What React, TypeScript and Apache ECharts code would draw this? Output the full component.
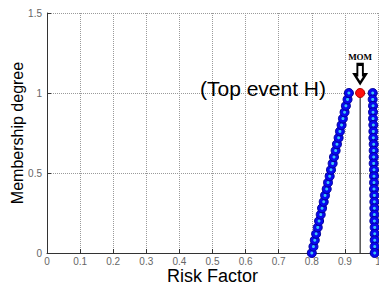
import React, { useEffect, useRef } from "react";
import * as echarts from "echarts";

const xTicks = [0, 0.1, 0.2, 0.3, 0.4, 0.5, 0.6, 0.7, 0.8, 0.9, 1];
const yTicks = [0, 0.5, 1, 1.5];

const leftLegX = [0.800, 0.805, 0.809, 0.813, 0.818, 0.822, 0.827, 0.831, 0.836, 0.840, 0.845, 0.849, 0.854, 0.858, 0.863, 0.867, 0.872, 0.876, 0.881, 0.885, 0.890, 0.894, 0.899, 0.903, 0.908, 0.912];
const leftLegY = [0, 0.04, 0.08, 0.12, 0.16, 0.2, 0.24, 0.28, 0.32, 0.36, 0.4, 0.44, 0.48, 0.52, 0.56, 0.6, 0.64, 0.68, 0.72, 0.76, 0.8, 0.84, 0.88, 0.92, 0.96, 1];

const rightLegX = [0.984, 0.984, 0.985, 0.985, 0.985, 0.986, 0.986, 0.986, 0.987, 0.987, 0.987, 0.987, 0.988, 0.988, 0.988, 0.988, 0.989, 0.989, 0.989, 0.989, 0.989, 0.990, 0.990, 0.990, 0.990, 0.990];
const rightLegY = [1, 0.96, 0.92, 0.88, 0.84, 0.8, 0.76, 0.72, 0.68, 0.64, 0.6, 0.56, 0.52, 0.48, 0.44, 0.4, 0.36, 0.32, 0.28, 0.24, 0.2, 0.16, 0.12, 0.08, 0.04, 0];

const momX = 0.946;
const momY = 1;

const annotationTitle = "(Top event H)";
const momLabel = "MOM";

export default function App() {
  const ref = useRef<HTMLDivElement>(null);
  useEffect(() => {
    if (!ref.current) return;
    const chart = echarts.init(ref.current, null, { renderer: "svg" });
    const left = leftLegX.map((x, i) => [x, leftLegY[i]]);
    const right = rightLegX.map((x, i) => [x, rightLegY[i]]);
    const fontSans = "'Liberation Sans', Arial, sans-serif";
    const blueMarker = {
      symbol: "circle",
      symbolSize: 9,
      itemStyle: { color: "#0808f0", borderColor: "#00009a", borderWidth: 1 },
    };
    chart.setOption({
      animation: false,
      backgroundColor: "#ffffff",
      grid: { left: 47, right: 1, top: 13, bottom: 34, containLabel: false, outerBoundsMode: "none" },
      xAxis: {
        type: "value",
        min: 0,
        max: 1,
        interval: 0.1,
        name: "Risk Factor",
        nameLocation: "middle",
        nameGap: 14,
        nameMoveOverlap: false,
        nameTextStyle: { fontFamily: fontSans, fontSize: 18, lineHeight: 18, color: "#000" },
        axisLine: { show: true, onZero: false, lineStyle: { color: "#333", width: 1 } },
        axisTick: { show: true, inside: true, length: 4, lineStyle: { color: "#333" } },
        axisLabel: {
          fontFamily: fontSans,
          fontSize: 10,
          color: "#666",
          margin: 3,
          formatter: (v: number) => {
            const t = xTicks.find((k) => Math.abs(k - v) < 1e-6);
            return t === undefined ? "" : String(t);
          },
        },
        splitLine: { show: true, lineStyle: { type: "dotted", color: "#9a9a9a", width: 1 } },
      },
      yAxis: {
        type: "value",
        min: 0,
        max: 1.5,
        interval: 0.5,
        name: "Membership degree",
        nameLocation: "middle",
        nameGap: 22,
        nameMoveOverlap: false,
        nameTextStyle: { fontFamily: fontSans, fontSize: 16, color: "#000" },
        axisLine: { show: true, onZero: false, lineStyle: { color: "#333", width: 1 } },
        axisTick: { show: true, inside: true, length: 4, lineStyle: { color: "#333" } },
        axisLabel: {
          fontFamily: fontSans,
          fontSize: 10,
          color: "#666",
          margin: 5,
          formatter: (v: number) => {
            const t = yTicks.find((k) => Math.abs(k - v) < 1e-6);
            return t === undefined ? "" : String(t);
          },
        },
        splitLine: { show: true, lineStyle: { type: "dotted", color: "#9a9a9a", width: 1 } },
      },
      series: [
        {
          type: "line",
          data: [[momX, 0], [momX, momY]],
          symbol: "none",
          lineStyle: { color: "#000", width: 1 },
          z: 2,
        },
        {
          type: "line",
          data: left,
          ...blueMarker,
          lineStyle: { color: "#0000ff", width: 2 },
          z: 3,
        },
        {
          type: "line",
          data: right,
          ...blueMarker,
          lineStyle: { color: "#0000ff", width: 2 },
          z: 3,
        },
        {
          type: "scatter",
          data: [...left, ...right],
          symbol: "circle",
          symbolSize: 3,
          itemStyle: { color: "#3ec6f2", opacity: 1 },
          z: 4,
        },
        {
          type: "scatter",
          data: [[momX, momY]],
          symbol: "circle",
          symbolSize: 9,
          itemStyle: { color: "#ff1010", borderColor: "#b00000", borderWidth: 1, opacity: 1 },
          z: 5,
        },
        {
          type: "scatter",
          data: [[momX, 1.12]],
          symbol: "path://M3,0 L9,0 L9,11 L12,11 L6,20 L0,11 L3,11 Z",
          symbolSize: [11, 19],
          itemStyle: { color: "#ffffff", borderColor: "#000", borderWidth: 2.5, opacity: 1 },
          z: 5,
        },
        {
          type: "scatter",
          data: [[momX, 1.225]],
          symbolSize: 0,
          itemStyle: { opacity: 1 },
          label: {
            show: true,
            position: "inside",
            formatter: momLabel,
            fontFamily: "'Liberation Serif', 'Times New Roman', serif",
            fontWeight: "bold",
            fontSize: 9,
            color: "#000",
            textBorderWidth: 0,
          },
          z: 6,
        },
        {
          type: "scatter",
          data: [[0.6526, 1.03]],
          symbolSize: 0,
          itemStyle: { opacity: 1 },
          label: {
            show: true,
            position: "inside",
            formatter: annotationTitle,
            fontFamily: fontSans,
            fontSize: 21,
            color: "#000",
            textBorderWidth: 0,
          },
          z: 6,
        },
      ],
    });
    return () => chart.dispose();
  }, []);
  return (
    <div
      ref={ref}
      style={{ position: "fixed", left: 0, top: 0, width: 379, height: 287 }}
    />
  );
}
